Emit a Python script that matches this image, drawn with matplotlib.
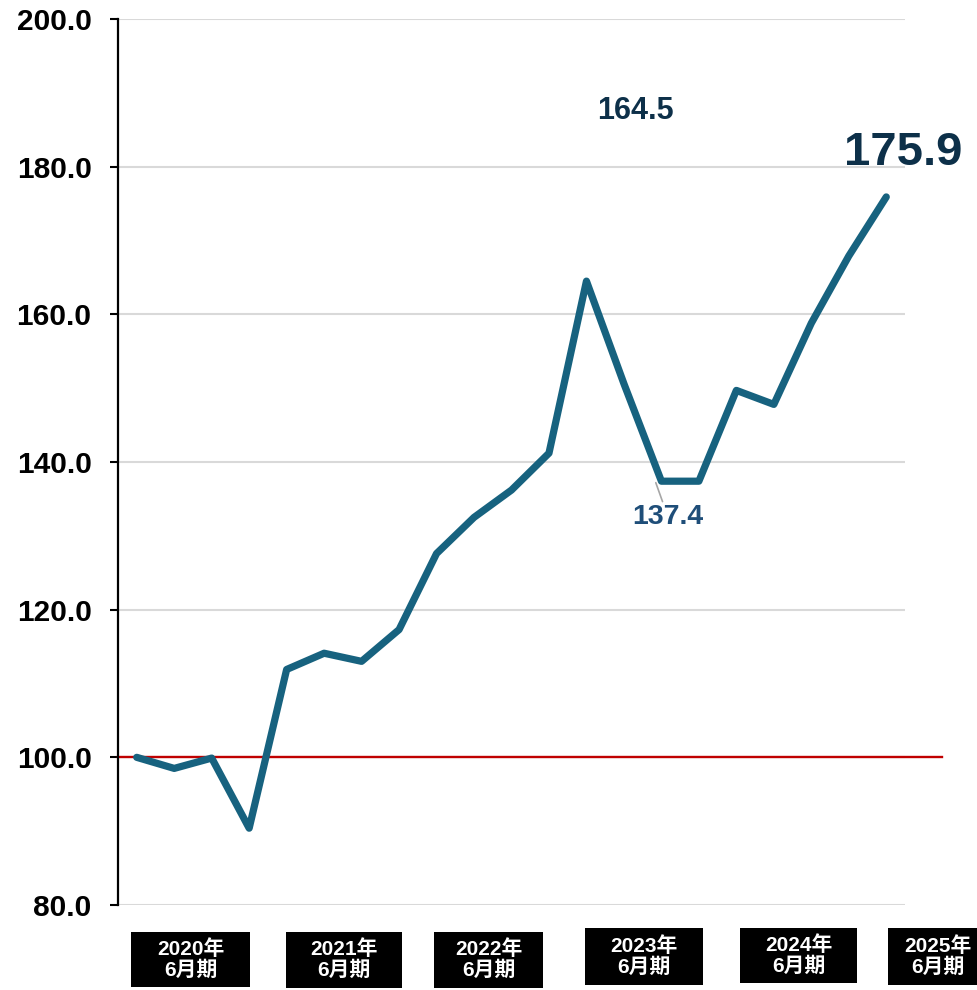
import matplotlib
matplotlib.use("Agg")
import matplotlib.pyplot as plt
from matplotlib.patches import Rectangle

plt.rcParams['font.family'] = ['Liberation Sans', 'Noto Sans CJK JP', 'DejaVu Sans']

## quarterly index, 2020 = 100
values = [100.0, 98.5, 99.9, 90.4, 111.9, 114.1, 113.0, 117.3, 127.6, 132.5,
          136.2, 141.2, 164.5, 150.6, 137.4, 137.4, 149.7, 147.8, 158.8, 167.9, 175.9]
periods = ['2020年\n6月期', '2021年\n6月期', '2022年\n6月期',
           '2023年\n6月期', '2024年\n6月期', '2025年\n6月期']
yticks = [80, 100, 120, 140, 160, 180, 200]

line_color = '#17627f'
W, H = 977, 990

fig = plt.figure(figsize=(W / 100, H / 100), dpi=100)
ax = fig.add_axes([118 / W, 1 - 905 / H, (905 - 118) / W, (905 - 19) / H])

x = list(range(len(values)))
ax.plot(x, values, color=line_color, lw=5.2, solid_capstyle='round',
        solid_joinstyle='round', zorder=3)

# base line at 100
ax.plot([-0.5, 21.5], [100, 100], color='#c00000', lw=1.7, clip_on=False, zorder=2)

ax.set_xlim(-0.5, 20.5)
ax.set_ylim(80, 200)
ax.set_yticks(yticks)
ax.set_yticklabels(['%.1f' % v for v in yticks], fontsize=21.5, fontweight='bold')
ax.set_xticks([])
ax.yaxis.grid(True, color='#d9d9d9', lw=1.5)
ax.set_axisbelow(True)
for s in ['top', 'right', 'bottom']:
    ax.spines[s].set_visible(False)
ax.spines['left'].set_linewidth(1.6)
ax.tick_params(axis='y', length=6, width=1.5, pad=13)

## labels on key points
ax.text(13.32, 187.5, '%.1f' % values[12], ha='center', va='center',
        fontsize=22, fontweight='bold', color='#0d3049')
ax.text(20.45, 181.8, '%.1f' % values[20], ha='center', va='center',
        fontsize=34, fontweight='bold', color='#0d3049')
ax.annotate('%.1f' % values[14], xy=(13.85, 137.2), xytext=(14.18, 132.5),
            ha='center', va='center', fontsize=20.5, fontweight='bold', color='#1f4e79',
            arrowprops=dict(arrowstyle='-', color='#a6a6a6', lw=1.2, shrinkA=0, shrinkB=0))

## period boxes under the axis
boxes = [(131, 932, 119, 55), (286, 932, 116, 56), (434, 932, 109, 56),
         (585, 928, 118, 57), (740, 928, 117, 55), (888, 928, 100, 57)]
for (bx, by, bw, bh), lab in zip(boxes, periods):
    fig.add_artist(Rectangle((bx / W, 1 - (by + bh) / H), bw / W, bh / H,
                             transform=fig.transFigure, color='black', lw=0))
    fig.text((bx + bw / 2) / W, 1 - (by + bh / 2) / H, lab, ha='center', va='center',
             color='white', fontsize=15, fontweight='bold', linespacing=1.1)

fig.savefig('out.png', dpi=100)
